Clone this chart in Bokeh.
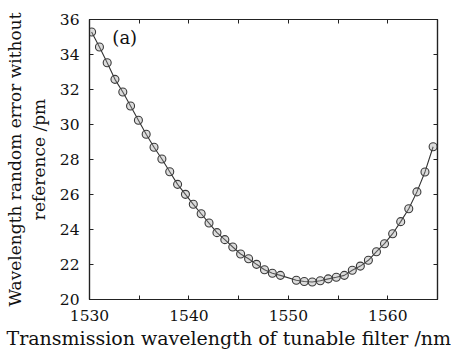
from bokeh.plotting import figure
from bokeh.models import LinearAxis, FixedTicker, Range1d, Label, Title
from bokeh.embed import file_html
from bokeh.resources import INLINE

wavelength_nm = [1530.21, 1531.00, 1531.78, 1532.56, 1533.35, 1534.13, 1534.92, 1535.70,
                 1536.49, 1537.28, 1538.07, 1538.86, 1539.65, 1540.44, 1541.23, 1542.02,
                 1542.82, 1543.61, 1544.41, 1545.20, 1546.00, 1546.80, 1547.60, 1548.39,
                 1549.20, 1550.80, 1551.60, 1552.40, 1553.21, 1554.01, 1554.82, 1555.63,
                 1556.43, 1557.24, 1558.05, 1558.86, 1559.67, 1560.49, 1561.30, 1562.11,
                 1562.93, 1563.74, 1564.56]
error_pm = [35.29, 34.43, 33.53, 32.58, 31.86, 31.06, 30.24, 29.44,
            28.70, 28.03, 27.30, 26.58, 26.01, 25.44, 24.90, 24.37,
            23.82, 23.42, 23.00, 22.60, 22.33, 22.01, 21.70, 21.50,
            21.38, 21.10, 21.03, 21.00, 21.07, 21.18, 21.27, 21.38,
            21.67, 21.91, 22.24, 22.73, 23.19, 23.76, 24.45, 25.19,
            26.15, 27.29, 28.73]

x_ticks = [1530, 1540, 1550, 1560]
x_minor_ticks = [1535, 1545, 1555]
y_ticks = [20, 22, 24, 26, 28, 30, 32, 34, 36]

x_title = "Transmission wavelength of tunable filter /nm"
y_title = "Wavelength random error without\nreference /pm"

FONT = "DejaVu Serif"

p = figure(frame_width=348, frame_height=280,
           min_border_left=89, min_border_right=14, min_border_top=19, min_border_bottom=8,
           x_range=Range1d(1530, 1565), y_range=Range1d(20, 36),
           output_backend="svg", toolbar_location=None,
           y_axis_label=y_title)

p.background_fill_color = "white"
p.border_fill_color = "white"
p.grid.visible = False
p.outline_line_color = "#222222"
p.outline_line_width = 1.2

xt = FixedTicker(ticks=x_ticks, minor_ticks=x_minor_ticks)
yt = FixedTicker(ticks=y_ticks, minor_ticks=[])

def style(ax, labels=True):
    ax.axis_line_color = "#222222"
    ax.axis_line_width = 1.2
    ax.major_tick_in = 4
    ax.major_tick_out = 0
    ax.minor_tick_in = 4
    ax.minor_tick_out = 0
    ax.major_tick_line_color = "#222222"
    ax.minor_tick_line_color = "#222222"
    ax.major_label_text_font = FONT
    ax.major_label_text_font_size = "15.5px"
    ax.major_label_text_color = "#111111"
    ax.axis_label_text_font = FONT
    ax.axis_label_text_font_size = "17px"
    ax.axis_label_text_font_style = "normal"
    ax.axis_label_text_color = "#111111"
    if not labels:
        ax.major_label_text_font_size = "1px"
        ax.major_label_text_alpha = 0
        ax.major_label_standoff = 0

p.xaxis.ticker = xt
p.yaxis.ticker = yt
style(p.xaxis[0])
style(p.yaxis[0])
p.xaxis.major_label_standoff = 10
p.yaxis.major_label_standoff = 10
p.yaxis.axis_label_standoff = 8

top = LinearAxis(ticker=xt)
style(top, labels=False)
p.add_layout(top, "above")
right = LinearAxis(ticker=yt)
style(right, labels=False)
p.add_layout(right, "right")

p.line(wavelength_nm, error_pm, line_color="#333333", line_width=1.1)
p.scatter(wavelength_nm, error_pm, marker="circle", size=8,
          line_color="#3a3a3a", line_width=1.1, fill_color="#9a9a9a", fill_alpha=0.35)

p.add_layout(Label(x=1532.3, y=35.0, text="(a)", text_font=FONT,
                   text_font_size="18px", text_baseline="middle", text_color="#111111"))

# x-axis title as a Title below the axis, shifted left like the reference
xtitle = Title(text=x_title, align="left", offset=-83, standoff=2,
               text_font=FONT, text_font_size="19px", text_font_style="normal",
               text_color="#111111")
p.add_layout(xtitle, "below")

open("out.html", "w").write(file_html(p, INLINE))
